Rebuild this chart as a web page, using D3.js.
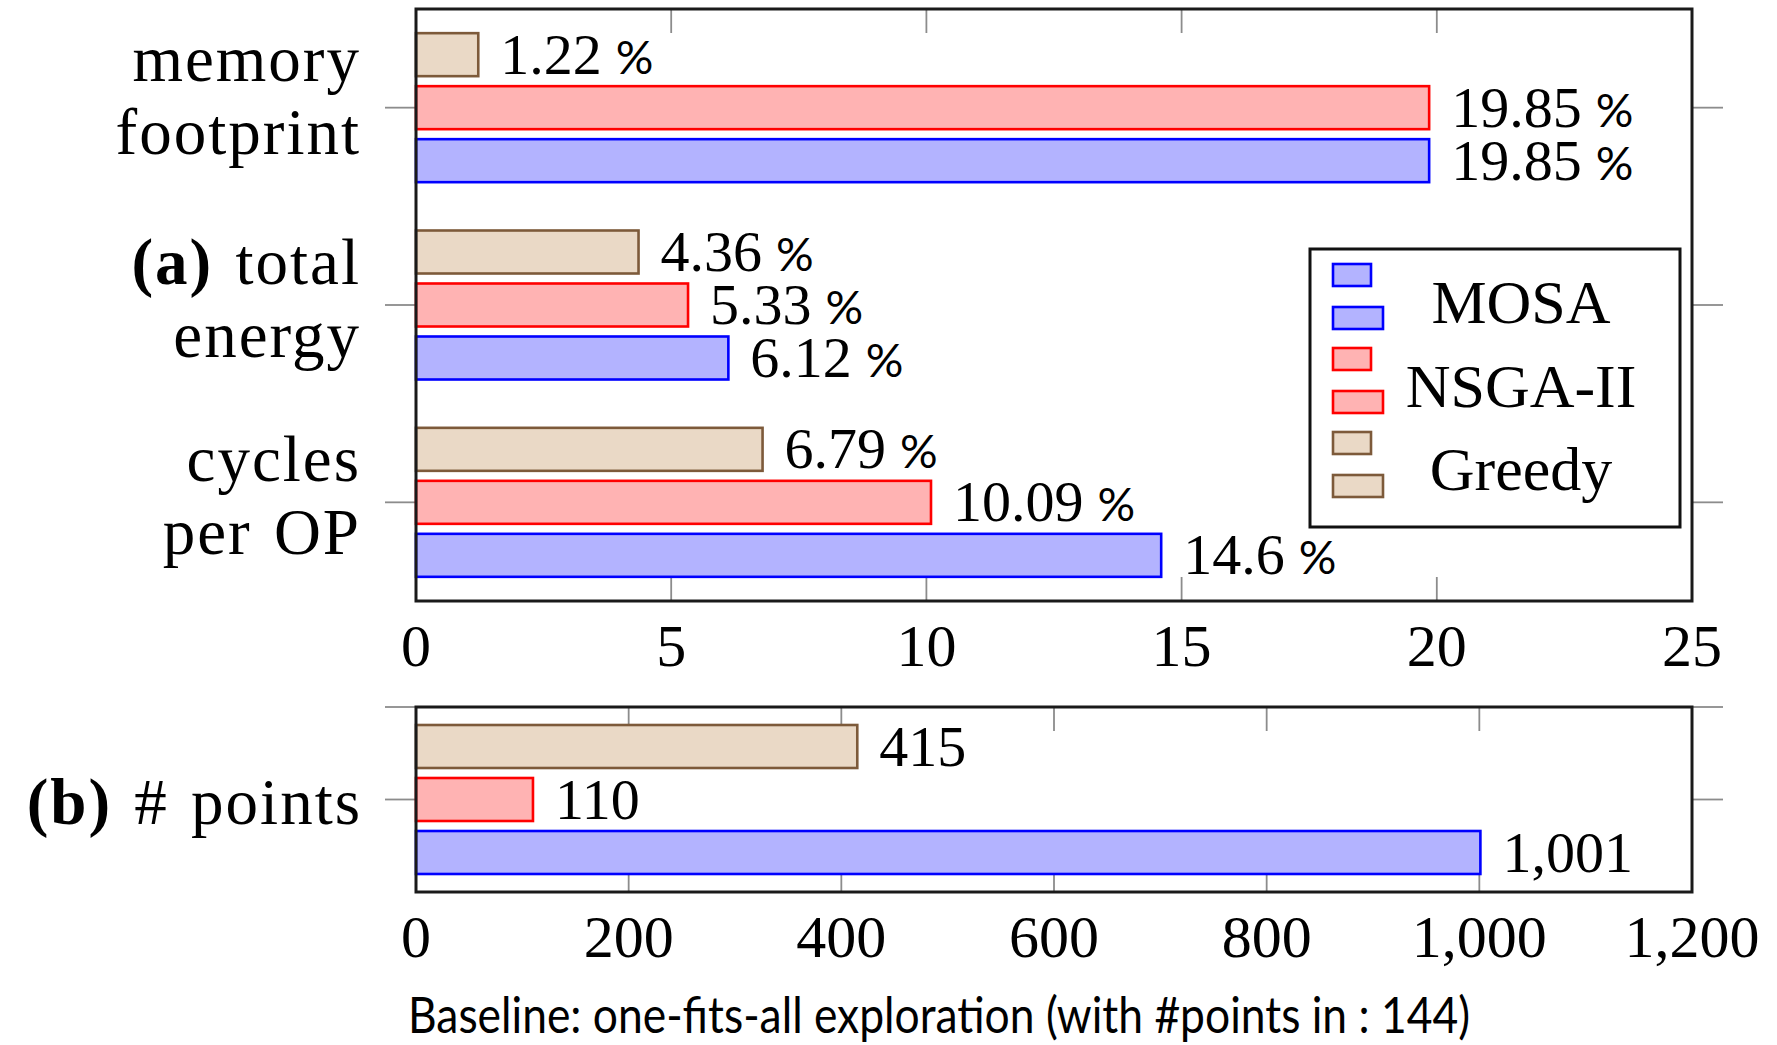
<!DOCTYPE html>
<html>
<head>
<meta charset="utf-8">
<script src="https://cdn.jsdelivr.net/npm/d3@7"></script>
<style>
  html, body { margin: 0; padding: 0; background: #fff; }
  svg { display: block; }
  .serif { font-family: "Liberation Serif", "Times New Roman", serif; fill: #000; }
  .sans { font-family: Lato, "Open Sans", sans-serif; fill: #000; }
  .cat { letter-spacing: 2px; word-spacing: 4px; }
</style>
</head>
<body>
<svg id="chart" width="1777" height="1045"></svg>
<script>
// ---- data ----
const series = ["MOSA", "NSGA-II", "Greedy"];
const categoriesA = ["memory footprint", "(a) total energy", "cycles per OP"];
const categoryLinesA = [["memory", "footprint"], ["(a) total", "energy"], ["cycles", "per OP"]];
const mosaA = [19.85, 6.12, 14.6];
const nsgaA = [19.85, 5.33, 10.09];
const greedyA = [1.22, 4.36, 6.79];
const ticksA = [0, 5, 10, 15, 20, 25];

const categoriesB = ["(b) # points"];
const mosaB = [1001];
const nsgaB = [110];
const greedyB = [415];
const ticksB = [0, 200, 400, 600, 800, 1000, 1200];

const caption = "Baseline: one-fits-all exploration (with #points in : 144)";

// ---- styles ----
const style = {
  "MOSA":    { fill: "#b3b3ff", stroke: "#0000ff" },
  "NSGA-II": { fill: "#ffb3b3", stroke: "#ff0000" },
  "Greedy":  { fill: "#ead9c6", stroke: "#7d5a3a" }
};

const svg = d3.select("#chart");

const left = 416, right = 1692;
const barH = 43;
const tickGrey = "#8c8c8c";

// bar order from top to bottom inside each category group
const slot = d3.scalePoint().domain(["Greedy", "NSGA-II", "MOSA"]).range([-53, 53]);

function drawPanel(opts) {
  const { top, bottom, categories, values, xDomain, ticks, tickBaseline, fmtTick, fmtValue, pct, extraTopTick } = opts;
  const g = svg.append("g");
  const x = d3.scaleLinear().domain(xDomain).range([left, right]);
  const y = d3.scalePoint().domain(categories).range([top, bottom]).padding(0.5);

  // inner x ticks (top and bottom)
  const inner = ticks.filter(t => t !== xDomain[0] && t !== xDomain[1]);
  g.selectAll("line.xt-top").data(inner).join("line")
    .attr("x1", d => x(d)).attr("x2", d => x(d))
    .attr("y1", top).attr("y2", top + 24)
    .attr("stroke", tickGrey).attr("stroke-width", 1.8);
  g.selectAll("line.xt-bot").data(inner).join("line")
    .attr("x1", d => x(d)).attr("x2", d => x(d))
    .attr("y1", bottom - 24).attr("y2", bottom)
    .attr("stroke", tickGrey).attr("stroke-width", 1.8);

  // y ticks outside on both sides
  const yTicks = categories.map(c => y(c));
  if (extraTopTick) yTicks.push(top);
  yTicks.forEach(yy => {
    g.append("line").attr("x1", left - 31).attr("x2", left).attr("y1", yy).attr("y2", yy)
      .attr("stroke", tickGrey).attr("stroke-width", 1.8);
    g.append("line").attr("x1", right).attr("x2", right + 31).attr("y1", yy).attr("y2", yy)
      .attr("stroke", tickGrey).attr("stroke-width", 1.8);
  });

  // bars
  const rows = [];
  categories.forEach((c, i) => {
    series.forEach(s => rows.push({ c, s, v: values[s][i] }));
  });
  g.selectAll("rect.bar").data(rows).join("rect")
    .attr("x", x(0))
    .attr("y", d => y(d.c) + slot(d.s) - barH / 2)
    .attr("width", d => x(d.v) - x(0))
    .attr("height", barH)
    .attr("fill", d => style[d.s].fill)
    .attr("stroke", d => style[d.s].stroke)
    .attr("stroke-width", 2.6);

  // value labels
  const lab = g.selectAll("text.val").data(rows).join("text")
    .attr("class", "serif")
    .attr("x", d => x(d.v) + 22)
    .attr("y", d => y(d.c) + slot(d.s) + 19)
    .style("font-size", "58px");
  lab.append("tspan").text(d => fmtValue(d.v));
  if (pct) {
    lab.append("tspan").attr("class", "sans").attr("dx", 14)
      .style("font-size", "47px").text("%");
  }

  // frame
  g.append("rect").attr("x", left).attr("y", top)
    .attr("width", right - left).attr("height", bottom - top)
    .attr("fill", "none").attr("stroke", "#1a1a1a").attr("stroke-width", 3);

  // tick labels
  g.selectAll("text.tl").data(ticks).join("text")
    .attr("class", "serif")
    .attr("x", d => x(d)).attr("y", tickBaseline)
    .attr("text-anchor", "middle")
    .style("font-size", "60px")
    .text(fmtTick);

  return { x, y };
}

// write a label line, setting a leading "(a)"/"(b)" in bold
function labelLine(sel, str) {
  const m = str.match(/^(\([a-z]\))(.*)$/);
  if (m) {
    sel.append("tspan").style("font-weight", "bold").text(m[1]);
    sel.append("tspan").text(m[2]);
  } else {
    sel.text(str);
  }
}

// ---- panel (a) ----
const valuesA = { "MOSA": mosaA, "NSGA-II": nsgaA, "Greedy": greedyA };
const pa = drawPanel({
  top: 9, bottom: 601, categories: categoriesA, values: valuesA,
  xDomain: [0, 25], ticks: ticksA, tickBaseline: 666,
  fmtTick: d => d, fmtValue: d => String(d), pct: true
});

categoriesA.forEach((c, i) => {
  const cy = pa.y(c);
  const lines = categoryLinesA[i];
  // a first line without tall letters sits a little higher
  const shift = /[A-Zbdfhklt()]/.test(lines[0]) ? 0 : -6;
  [-21, 52].forEach((dy, k) => {
    const t = svg.append("text").attr("class", "serif cat")
      .attr("x", 361).attr("y", cy + dy + shift)
      .attr("text-anchor", "end").style("font-size", "65px");
    labelLine(t, lines[k]);
  });
});

// legend
const leg = svg.append("g");
leg.append("rect").attr("x", 1310).attr("y", 249).attr("width", 370).attr("height", 278)
  .attr("fill", "#fff").attr("stroke", "#111").attr("stroke-width", 3);
series.forEach((s, i) => {
  const y0 = 264 + i * 84;
  leg.append("rect").attr("x", 1333).attr("y", y0).attr("width", 38).attr("height", 22)
    .attr("fill", style[s].fill).attr("stroke", style[s].stroke).attr("stroke-width", 2.6);
  leg.append("rect").attr("x", 1333).attr("y", y0 + 43).attr("width", 50).attr("height", 22)
    .attr("fill", style[s].fill).attr("stroke", style[s].stroke).attr("stroke-width", 2.6);
  leg.append("text").attr("class", "serif")
    .attr("x", 1521).attr("y", 323 + i * 83.5)
    .attr("text-anchor", "middle").style("font-size", "62px").text(s);
});

// ---- panel (b) ----
const valuesB = { "MOSA": mosaB, "NSGA-II": nsgaB, "Greedy": greedyB };
const pb = drawPanel({
  top: 707, bottom: 892, categories: categoriesB, values: valuesB,
  xDomain: [0, 1200], ticks: ticksB, tickBaseline: 957,
  fmtTick: d3.format(","), fmtValue: d3.format(","), pct: false, extraTopTick: true
});

const tb = svg.append("text").attr("class", "serif cat")
  .attr("x", 362).attr("y", pb.y(categoriesB[0]) + 24)
  .attr("text-anchor", "end").style("font-size", "65px");
labelLine(tb, categoriesB[0]);

// caption
svg.append("text").attr("class", "sans")
  .attr("x", 939).attr("y", 1033).attr("text-anchor", "middle")
  .attr("textLength", 1062).attr("lengthAdjust", "spacingAndGlyphs")
  .style("font-size", "50px")
  .text(caption);
</script>
</body>
</html>
